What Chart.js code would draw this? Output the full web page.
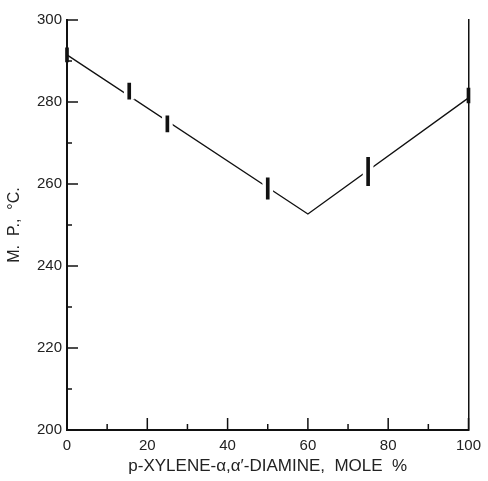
<!DOCTYPE html>
<html>
<head>
<meta charset="utf-8">
<script src="https://cdn.jsdelivr.net/npm/chart.js@4.4.1/dist/chart.umd.min.js"></script>
<style>
  body { margin: 0; background: #fff; }
  canvas { display: block; }
</style>
</head>
<body>
<canvas id="mpChart" width="488" height="481"></canvas>
<script>
// melting point curve (vertices of the drawn line)
const curveMole = [0, 60, 100];
const curveTemp = [291.5, 252.7, 281];

// measured points, drawn as short vertical bars (low .. high)
const pointMole = [0, 15.5, 25, 50, 75, 100];
const pointLow = [289.8, 280.7, 272.7, 256.3, 259.6, 279.8];
const pointHigh = [293.2, 284.6, 276.6, 261.5, 266.5, 283.4];

const INK = '#111';

// ticks in the original point inward, long at labelled values
const insideTicks = {
    id: 'insideTicks',
    afterDraw(chart) {
        const { ctx, chartArea, scales } = chart;
        ctx.save();
        ctx.strokeStyle = INK;
        ctx.lineWidth = 1.5;
        scales.y.ticks.forEach(t => {
            const py = scales.y.getPixelForValue(t.value);
            const len = t.value % 20 === 0 ? 11 : 5;
            ctx.beginPath();
            ctx.moveTo(chartArea.left, py);
            ctx.lineTo(chartArea.left + len, py);
            ctx.stroke();
        });
        scales.x.ticks.forEach(t => {
            const px = scales.x.getPixelForValue(t.value);
            const len = t.value % 20 === 0 ? 12 : 6;
            ctx.beginPath();
            ctx.moveTo(px, chartArea.bottom);
            ctx.lineTo(px, chartArea.bottom - len);
            ctx.stroke();
        });
        ctx.restore();
    }
};

const edgeOnly = v => (v === 0 || v === 100);

new Chart(document.getElementById('mpChart'), {
    data: {
        datasets: [
            {
                type: 'line',
                data: curveMole.map((m, i) => ({ x: m, y: curveTemp[i] })),
                borderColor: INK,
                borderWidth: 1.3,
                pointRadius: 0,
                tension: 0,
                order: 3
            },
            {
                // white halo so the line breaks around each bar
                type: 'bar',
                data: pointMole.map((m, i) => ({ x: m, y: [pointLow[i], pointHigh[i]] })),
                backgroundColor: c => edgeOnly(c.raw && c.raw.x) ? 'rgba(0,0,0,0)' : '#fff',
                barThickness: 10,
                grouped: false,
                clip: 8,
                order: 2
            },
            {
                type: 'bar',
                data: pointMole.map((m, i) => ({ x: m, y: [pointLow[i], pointHigh[i]] })),
                backgroundColor: INK,
                barThickness: 3,
                grouped: false,
                clip: 8,
                order: 1
            }
        ]
    },
    options: {
        responsive: false,
        animation: false,
        layout: { padding: { top: 20, right: 12, bottom: 0, left: 0 } },
        plugins: {
            legend: { display: false },
            tooltip: { enabled: false }
        },
        scales: {
            x: {
                type: 'linear',
                min: 0,
                max: 100,
                offset: false,
                grid: { display: false, drawTicks: false },
                border: { color: INK, width: 2 },
                ticks: {
                    stepSize: 10,
                    padding: 7,
                    maxRotation: 0,
                    autoSkip: false,
                    color: '#222',
                    font: { family: 'Liberation Sans', size: 15 },
                    callback: v => v % 20 === 0 ? v : ''
                },
                title: {
                    display: true,
                    text: 'p-XYLENE-\u03b1,\u03b1\u2032-DIAMINE,  MOLE  %',
                    color: '#222',
                    font: { family: 'Liberation Sans', size: 17 },
                    padding: { top: 0, bottom: 4 }
                },
                afterFit: s => { s.height = 51; }
            },
            y: {
                type: 'linear',
                min: 200,
                max: 300,
                grid: { display: false, drawTicks: false },
                border: { color: INK, width: 2 },
                ticks: {
                    stepSize: 10,
                    padding: 5,
                    autoSkip: false,
                    color: '#222',
                    font: { family: 'Liberation Sans', size: 15 },
                    callback: v => v % 20 === 0 ? v : ''
                },
                title: {
                    display: true,
                    text: 'M.  P.,  \u00b0C.',
                    color: '#222',
                    font: { family: 'Liberation Sans', size: 16 },
                    padding: { top: 5, bottom: 0 }
                },
                afterFit: s => { s.width = 67; }
            },
            y2: {
                type: 'linear',
                position: 'right',
                min: 200,
                max: 300,
                grid: { display: false, drawTicks: false },
                border: { color: INK, width: 1.5 },
                ticks: { display: false },
                afterFit: s => { s.width = 0; }
            }
        }
    },
    plugins: [insideTicks]
});
</script>
</body>
</html>
